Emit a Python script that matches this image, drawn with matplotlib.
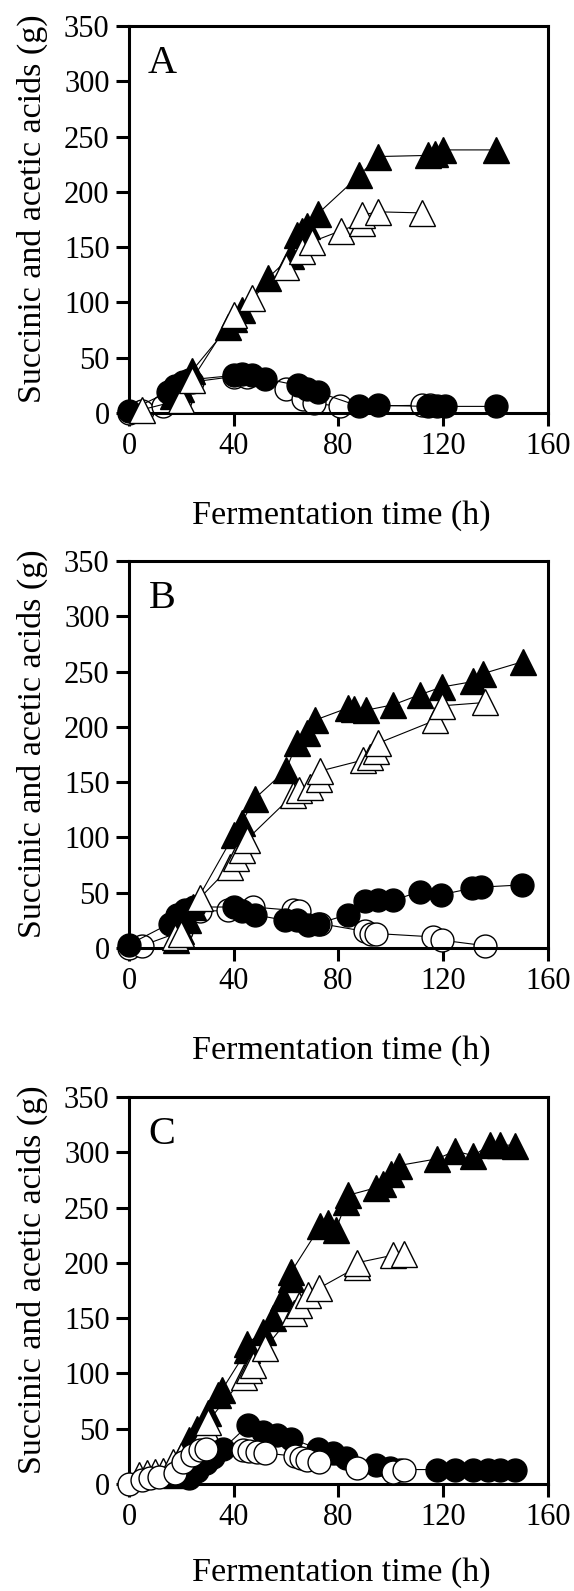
import matplotlib
matplotlib.use("Agg")
import matplotlib.pyplot as plt

plt.rcParams['font.family'] = ['Liberation Serif', 'DejaVu Serif']

# Panel A
a_tri_f_t = [17, 20, 24, 38, 40, 43, 53, 62, 64, 66, 68, 72, 88, 95, 114, 117, 120, 140]
a_tri_f_v = [15, 22, 38, 78, 85, 93, 122, 142, 161, 165, 169, 180, 215, 232, 233, 234, 238, 238]
a_tri_o_t = [5, 20, 24, 40, 47, 60, 66, 70, 81, 89, 89, 95, 112]
a_tri_o_v = [3, 12, 30, 89, 104, 132, 147, 155, 165, 172, 179, 182, 181]
a_cir_f_t = [0, 15, 17.5, 20.5, 23, 40, 43, 47, 52, 64.5, 68, 72, 88, 95, 114, 117.5, 120.5, 140]
a_cir_f_v = [2, 19, 24, 28, 30, 34, 35, 34, 31, 25, 22, 19, 6, 7, 6, 6, 6, 6]
a_cir_o_t = [0, 5, 13, 19.5, 24, 40, 45, 60, 66.5, 70.5, 80.5, 112, 115]
a_cir_o_v = [0, 2, 6, 12, 28, 33, 33, 22, 13, 9, 6, 7, 7]

# Panel B
b_tri_f_t = [18, 20, 22.5, 24.5, 40, 43, 48, 60, 64, 68, 71, 83.5, 86, 90.5, 101, 111, 119.5, 131.5, 135, 150.5]
b_tri_f_v = [7, 15, 25, 37, 102, 113, 135, 161, 185, 194, 206, 217, 216, 215, 220, 229, 236, 241, 248, 259]
b_tri_o_t = [17.5, 20, 27, 38.5, 41, 43, 45, 62.5, 65, 69, 72.5, 73, 89.5, 92, 94.5, 95, 117, 119.5, 136]
b_tri_o_v = [10, 13, 45, 73, 81, 89, 98, 138, 143, 146, 153, 160, 170, 173, 178, 185, 206, 219, 222]
b_cir_f_t = [0, 15.5, 18.5, 21.5, 25, 40, 43, 48, 59.5, 64, 68.5, 72, 83.5, 90, 95, 101, 111, 119, 131, 134.5, 150]
b_cir_f_v = [3, 22, 30, 34, 37, 37, 33, 30, 25, 25, 21, 22, 30, 42, 43, 43, 51, 48, 54, 55, 57]
b_cir_o_t = [0, 5, 20, 27, 38, 47.5, 62.5, 65, 73, 90, 92.5, 94.5, 116, 119.5, 136]
b_cir_o_v = [0, 2, 15, 33, 34, 37, 34, 33, 22, 15, 13, 13, 10, 7, 2]

# Panel C
c_tri_f_t = [18, 23, 26, 30, 34, 35.5, 45, 45, 51, 55, 59, 62, 62, 73, 76, 79, 83, 83.5, 94.5, 97, 100, 103, 117.5, 124.5, 131.5, 138, 141.5, 147.5]
c_tri_f_v = [8, 40, 50, 64, 80, 85, 121, 127, 137, 150, 168, 185, 192, 233, 236, 230, 255, 261, 268, 271, 280, 288, 294, 301, 297, 307, 307, 306]
c_tri_o_t = [4, 7, 10, 13, 17, 20, 29.5, 30, 44, 46, 47.5, 52, 63, 65, 68.5, 72.5, 87, 87, 101, 105]
c_tri_o_v = [8, 10, 11, 12, 20, 25, 50, 56, 97, 103, 108, 123, 155, 162, 171, 177, 196, 200, 207, 208]
c_cir_f_t = [23, 26, 29.5, 32, 36, 45.5, 51, 56.5, 62, 72, 78, 83, 94.5, 99.5, 103.5, 117.5, 124.5, 131.5, 137, 141.5, 147.5]
c_cir_f_v = [5, 12, 19, 24, 32, 53, 47, 44, 41, 32, 28, 23, 17, 14, 13, 13, 13, 13, 13, 13, 13]
c_cir_o_t = [0, 5, 8, 11.5, 17.5, 20.5, 24, 27, 29.5, 43.5, 46, 49, 52, 63.5, 65.5, 68, 72.5, 87, 101, 105]
c_cir_o_v = [0, 4, 5, 6, 10, 20, 26, 31, 32, 31, 30, 29, 28, 25, 23.5, 22, 20, 14, 11, 13]

panels = [
    ("A", (a_tri_f_t, a_tri_f_v), (a_tri_o_t, a_tri_o_v), (a_cir_f_t, a_cir_f_v), (a_cir_o_t, a_cir_o_v)),
    ("B", (b_tri_f_t, b_tri_f_v), (b_tri_o_t, b_tri_o_v), (b_cir_f_t, b_cir_f_v), (b_cir_o_t, b_cir_o_v)),
    ("C", (c_tri_f_t, c_tri_f_v), (c_tri_o_t, c_tri_o_v), (c_cir_f_t, c_cir_f_v), (c_cir_o_t, c_cir_o_v)),
]
# drawing order (zorder of circles open/filled, triangles filled/open)
orders = [(2, 3, 4, 5), (2, 3, 4, 5), (5, 4, 2, 3)]
xlabel_y = [-0.226, -0.226, -0.19]

fig = plt.figure(figsize=(5.74, 15.91), dpi=100)
bottoms = [0.7404, 0.4042, 0.0673]

for (letter, tf, to, cf, co), b, z, ly in zip(panels, bottoms, orders, xlabel_y):
    ax = fig.add_axes([0.2247, b, 0.730, 0.2432])
    ax.plot(co[0], co[1], '-', color='black', lw=0.8, marker='o', ms=16.5,
            mfc='white', mec='black', mew=1.0, zorder=z[0])
    ax.plot(cf[0], cf[1], '-', color='black', lw=0.8, marker='o', ms=16.5,
            mfc='black', mec='black', mew=1.0, zorder=z[1])
    ax.plot(tf[0], tf[1], '-', color='black', lw=0.8, marker='^', ms=19,
            mfc='black', mec='black', mew=1.0, zorder=z[2])
    ax.plot(to[0], to[1], '-', color='black', lw=0.8, marker='^', ms=19,
            mfc='white', mec='black', mew=1.0, zorder=z[3])

    ax.set_xlim(0, 160)
    ax.set_ylim(0, 350)
    ax.set_xticks([0, 40, 80, 120, 160])
    ax.set_yticks(range(0, 351, 50))
    for s in ax.spines.values():
        s.set_linewidth(2.2)
    ax.tick_params(direction='out', length=9.5, width=2.2, labelsize=22, pad=4)
    ax.tick_params(axis='y', pad=4.5)

    ax.text(0.079, 0.904, letter, transform=ax.transAxes, fontsize=29,
            ha='center', va='center')

    ax.set_xlabel("Fermentation time (h)", fontsize=24.5)
    ax.xaxis.set_label_coords(0.506, ly)
    ax.set_ylabel("Succinic and acetic acids (g)", fontsize=24.5)
    ax.yaxis.set_label_coords(-0.193, 0.527)
    for m in ax.lines:
        m.set_clip_on(False)

fig.savefig("out.png", dpi=100)
